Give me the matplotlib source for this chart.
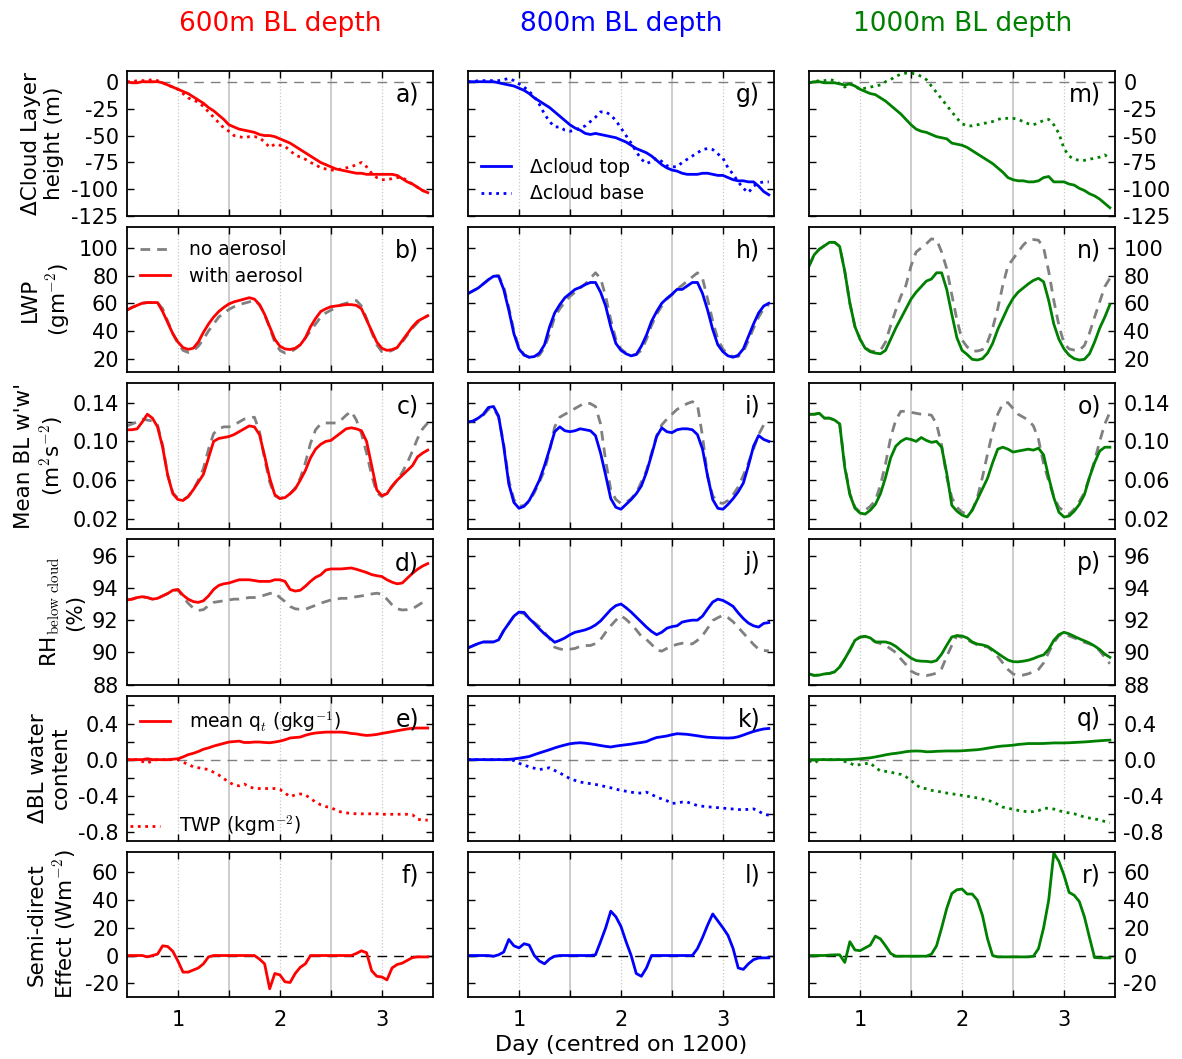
import numpy as np
import matplotlib.pyplot as plt

plt.rcParams['mathtext.fontset'] = 'cm'
plt.rcParams['font.family'] = 'DejaVu Sans'

# time axis, days centred on 1200
day = np.linspace(0.5, 3.45, 60)

# --- change in cloud top / cloud base height (m) ---
top_600 = [0, -1, -1, 0, 0, 0, 0, -1, -3, -5,
           -7, -9, -11, -14, -17, -20, -24, -27, -31, -35,
           -40, -42, -44, -45, -46, -47, -49, -50, -50, -51,
           -53, -55, -57, -60, -63, -66, -69, -72, -75, -77,
           -79, -81, -82, -83, -84, -85, -85, -86, -86, -86,
           -86, -86, -86, -87, -90, -93, -95, -98, -101, -103]
base_600 = [0, 0, 1, 1, 1, 2, 1, -1, -3, -5,
            -7, -11, -15, -17, -19, -23, -28, -33, -38, -43,
            -46, -50, -51, -52, -51, -51, -52, -56, -61, -58,
            -59, -60, -64, -68, -70, -72, -75, -77, -80, -81,
            -82, -82, -81, -80, -79, -77, -75, -79, -85, -89,
            -91, -91, -90, -89, -89, -92, -95, -98, -101, -103]
top_800 = [0, 0, 0, 0, 0, 0, -1, -2, -3, -4,
           -6, -8, -11, -15, -18, -21, -24, -28, -32, -36,
           -40, -43, -45, -48, -49, -48, -49, -50, -51, -52,
           -54, -56, -59, -62, -64, -66, -69, -73, -77, -80,
           -82, -83, -85, -86, -86, -86, -85, -85, -86, -87,
           -87, -89, -91, -92, -92, -93, -93, -97, -102, -105]
base_800 = [0, 0, 1, 1, 1, 1, 1, 2, 3, 1,
            -2, -5, -9, -14, -21, -30, -37, -42, -42, -45,
            -46, -45, -43, -41, -37, -33, -28, -28, -31, -36,
            -43, -50, -57, -65, -72, -76, -74, -71, -74, -78,
            -79, -79, -75, -72, -69, -66, -63, -62, -63, -67,
            -71, -80, -86, -93, -99, -103, -97, -94, -93, -93]
top_1000 = [-1, 0, 0, -1, -1, -1, -2, -3, -2, -4,
            -7, -9, -11, -12, -15, -18, -22, -26, -30, -35,
            -40, -44, -46, -47, -49, -51, -52, -53, -57, -58,
            -59, -61, -64, -67, -70, -73, -76, -80, -84, -89,
            -91, -92, -92, -93, -93, -92, -89, -88, -93, -93,
            -93, -95, -96, -99, -101, -104, -106, -109, -113, -117]
base_1000 = [-1, 0, 1, 1, 2, 1, -2, -5, -2, -4,
             -7, -6, -5, -4, -3, 0, 2, 5, 7, 8,
             8, 7, 5, 2, -4, -10, -16, -22, -28, -34,
             -39, -41, -41, -40, -39, -38, -37, -35, -34, -34,
             -34, -35, -37, -39, -40, -38, -36, -35, -40, -48,
             -62, -69, -72, -73, -73, -72, -71, -70, -68, -71]

# --- LWP (g m-2) ---
lwp_600 = [55, 57, 58.5, 60, 60.5, 60.5, 60.5, 54, 46, 38,
           32, 28, 26.7, 27.5, 32, 39, 45, 50, 54, 57,
           59.5, 61, 62, 63, 64, 63, 59, 52, 43, 34,
           29, 27, 26.6, 27.5, 30, 35, 43, 49, 54, 56,
           57.5, 58, 58.5, 59, 59, 58.5, 56, 48, 40, 32,
           27.5, 26, 26.5, 28, 33, 38, 43, 47, 49, 51]
lwp_600_na = [55, 57, 58.5, 60, 60.5, 60.5, 60.5, 56, 47, 38,
              31, 26, 24.5, 25.5, 29, 34, 40, 45, 50, 53,
              55.5, 57.5, 59, 60, 61, 62, 59, 52, 42, 32,
              26, 24, 24.5, 27, 30, 35, 40, 45, 50, 53,
              55, 57, 59, 60, 61, 62, 58, 49, 39, 30,
              25, 24.5, 26, 28, 32, 37, 42, 46, 49, 51]
lwp_800 = [67, 69, 71, 74, 77, 79.5, 79.5, 70, 55, 38,
           27, 22.5, 21, 21.5, 24, 30, 43, 53, 59, 64,
           67, 70, 71.5, 73.5, 75, 75, 68, 58, 43, 31,
           26, 23.5, 22, 23, 29, 37, 47, 54, 60, 63.5,
           66.5, 70, 70, 72.5, 75, 75, 67, 55, 41, 30,
           25, 22, 21, 22.5, 27, 36, 45, 53, 58, 60]
lwp_800_na = [67, 69, 71, 74, 77, 80, 80, 72, 57, 40,
              28, 23, 21, 21, 22.5, 28, 38, 50, 56, 61,
              65, 68, 71, 74, 78, 82, 78, 65, 48, 34,
              27, 24, 22.5, 23, 26, 34, 44, 52, 58, 63,
              66, 70, 73, 76, 79, 82, 78, 63, 47, 34,
              27, 23, 21.5, 21.5, 25, 33, 42, 50, 56, 59]
lwp_1000 = [87, 95, 99, 101.5, 104, 104, 101, 83, 60, 43,
            34, 27.5, 25, 24, 23.5, 26, 34, 42, 49, 56,
            63, 68, 72, 76, 77.5, 82, 82, 70, 52, 35,
            26, 23, 19.5, 19, 20, 24, 31, 41, 49, 57,
            63.5, 68, 71, 74, 76.5, 78, 75.5, 62, 45, 34,
            27, 22.5, 20, 19, 19.5, 23.5, 32, 42, 50, 59]
lwp_1000_na = [87, 95, 99, 101.5, 104, 104, 101, 83, 60, 43,
               34, 28, 25.5, 25, 26, 32, 44, 55, 65, 73,
               87, 97, 100, 103, 106.5, 106, 97, 85, 66, 48,
               33.5, 28.5, 25.5, 25.5, 26.5, 32, 42, 56, 73, 87,
               92, 97, 102, 105.5, 106, 105.5, 100, 83, 62, 44,
               31, 27, 26.2, 26, 29.5, 38.5, 50, 61, 72, 78]

# --- mean BL w'w' (m2 s-2) ---
ww_600 = [0.112, 0.112, 0.113, 0.120, 0.128, 0.124, 0.115, 0.094, 0.065, 0.046,
          0.040, 0.039, 0.043, 0.050, 0.058, 0.066, 0.083, 0.100, 0.103, 0.104,
          0.105, 0.107, 0.110, 0.113, 0.116, 0.115, 0.107, 0.085, 0.062, 0.045,
          0.041, 0.042, 0.046, 0.051, 0.060, 0.070, 0.083, 0.092, 0.097, 0.100,
          0.101, 0.105, 0.109, 0.113, 0.114, 0.113, 0.111, 0.100, 0.075, 0.050,
          0.044, 0.046, 0.054, 0.060, 0.065, 0.070, 0.075, 0.084, 0.088, 0.091]
ww_600_na = [0.116, 0.118, 0.120, 0.123, 0.122, 0.121, 0.117, 0.096, 0.065, 0.047,
             0.041, 0.040, 0.043, 0.050, 0.060, 0.072, 0.092, 0.108, 0.113, 0.115,
             0.115, 0.117, 0.120, 0.123, 0.124, 0.125, 0.110, 0.082, 0.058, 0.044,
             0.041, 0.043, 0.046, 0.052, 0.062, 0.078, 0.098, 0.112, 0.118, 0.119,
             0.119, 0.119, 0.122, 0.127, 0.131, 0.122, 0.108, 0.088, 0.065, 0.047,
             0.043, 0.047, 0.053, 0.060, 0.068, 0.078, 0.090, 0.103, 0.113, 0.119]
ww_800 = [0.120, 0.121, 0.124, 0.128, 0.135, 0.136, 0.126, 0.095, 0.056, 0.037,
          0.031, 0.033, 0.039, 0.049, 0.060, 0.075, 0.092, 0.110, 0.115, 0.111,
          0.110, 0.111, 0.113, 0.112, 0.111, 0.106, 0.088, 0.065, 0.041, 0.032,
          0.030, 0.035, 0.040, 0.046, 0.054, 0.068, 0.086, 0.105, 0.114, 0.110,
          0.109, 0.112, 0.113, 0.113, 0.112, 0.107, 0.092, 0.064, 0.040, 0.031,
          0.030, 0.035, 0.041, 0.048, 0.057, 0.075, 0.095, 0.106, 0.102, 0.100]
ww_800_na = [0.120, 0.121, 0.124, 0.127, 0.133, 0.134, 0.125, 0.097, 0.060, 0.040,
             0.033, 0.034, 0.038, 0.047, 0.058, 0.070, 0.090, 0.115, 0.125, 0.128,
             0.131, 0.134, 0.137, 0.140, 0.139, 0.136, 0.118, 0.080, 0.050, 0.040,
             0.036, 0.037, 0.041, 0.047, 0.058, 0.070, 0.088, 0.106, 0.117, 0.123,
             0.128, 0.133, 0.136, 0.139, 0.141, 0.138, 0.105, 0.064, 0.044, 0.037,
             0.036, 0.039, 0.045, 0.053, 0.065, 0.078, 0.092, 0.107, 0.117, 0.121]
ww_1000 = [0.128, 0.128, 0.129, 0.124, 0.124, 0.122, 0.118, 0.073, 0.045, 0.031,
           0.026, 0.025, 0.029, 0.035, 0.046, 0.063, 0.083, 0.095, 0.100, 0.103,
           0.102, 0.100, 0.104, 0.101, 0.099, 0.100, 0.094, 0.067, 0.034, 0.028,
           0.024, 0.022, 0.029, 0.040, 0.051, 0.062, 0.078, 0.092, 0.094, 0.092,
           0.089, 0.090, 0.091, 0.092, 0.091, 0.093, 0.086, 0.063, 0.042, 0.027,
           0.022, 0.023, 0.028, 0.035, 0.045, 0.063, 0.078, 0.090, 0.094, 0.094]
ww_1000_na = [0.128, 0.128, 0.129, 0.124, 0.124, 0.122, 0.118, 0.075, 0.046, 0.032,
              0.027, 0.029, 0.033, 0.039, 0.055, 0.077, 0.104, 0.122, 0.131, 0.131,
              0.130, 0.129, 0.128, 0.128, 0.127, 0.118, 0.096, 0.063, 0.042, 0.032,
              0.027, 0.025, 0.029, 0.042, 0.063, 0.087, 0.110, 0.128, 0.139, 0.140,
              0.134, 0.128, 0.125, 0.122, 0.116, 0.102, 0.077, 0.059, 0.043, 0.032,
              0.028, 0.025, 0.030, 0.038, 0.047, 0.063, 0.080, 0.100, 0.118, 0.130]

# --- RH below cloud (%) ---
rh_600 = [93.25, 93.3, 93.4, 93.45, 93.4, 93.3, 93.35, 93.5, 93.65, 93.85,
          93.9, 93.55, 93.3, 93.15, 93.1, 93.2, 93.5, 93.9, 94.15, 94.25,
          94.3, 94.4, 94.5, 94.5, 94.5, 94.45, 94.4, 94.4, 94.4, 94.5,
          94.5, 94.4, 93.9, 93.8, 93.85, 94.1, 94.4, 94.65, 94.8, 95.1,
          95.17, 95.17, 95.17, 95.2, 95.23, 95.15, 95.05, 94.95, 94.82, 94.75,
          94.7, 94.5, 94.35, 94.25, 94.3, 94.6, 94.9, 95.15, 95.35, 95.5]
rh_600_na = [93.25, 93.3, 93.4, 93.45, 93.4, 93.3, 93.35, 93.5, 93.65, 93.85,
             93.85, 93.45, 93.05, 92.75, 92.6, 92.65, 92.9, 93.1, 93.15, 93.2,
             93.25, 93.3, 93.3, 93.35, 93.4, 93.4, 93.45, 93.55, 93.65, 93.7,
             93.4, 93.15, 92.85, 92.7, 92.67, 92.67, 92.8, 92.92, 93.05, 93.15,
             93.25, 93.3, 93.35, 93.35, 93.4, 93.45, 93.5, 93.55, 93.62, 93.67,
             93.6, 93.3, 92.95, 92.7, 92.63, 92.65, 92.7, 92.9, 93.1, 93.15]
rh_800 = [90.28, 90.42, 90.55, 90.65, 90.65, 90.65, 90.78, 91.35, 91.8, 92.25,
          92.5, 92.48, 92.1, 91.8, 91.46, 91.15, 90.9, 90.63, 90.75, 90.9,
          91.1, 91.25, 91.32, 91.4, 91.52, 91.7, 91.95, 92.3, 92.65, 92.9,
          93.0, 92.77, 92.5, 92.19, 91.88, 91.57, 91.3, 91.1, 91.25, 91.5,
          91.6, 91.65, 91.88, 91.95, 92.0, 92.0, 92.25, 92.7, 93.12, 93.3,
          93.22, 93.05, 92.85, 92.45, 92.1, 91.82, 91.65, 91.57, 91.8, 91.85]
rh_800_na = [90.28, 90.42, 90.55, 90.65, 90.65, 90.65, 90.78, 91.35, 91.8, 92.25,
             92.48, 92.4, 92.05, 91.85, 91.6, 91.25, 90.85, 90.32, 90.22, 90.16,
             90.2, 90.25, 90.38, 90.43, 90.43, 90.55, 90.8, 91.25, 91.65, 92.0,
             92.28, 92.05, 91.75, 91.4, 91.0, 90.8, 90.5, 90.15, 90.08, 90.25,
             90.4, 90.5, 90.57, 90.55, 90.53, 90.75, 91.05, 91.5, 91.98, 92.15,
             92.3, 92.15, 91.9, 91.55, 91.2, 90.85, 90.5, 90.2, 90.12, 90.1]
rh_1000 = [88.67, 88.58, 88.6, 88.67, 88.7, 88.8, 89.1, 89.6, 90.15, 90.75,
           90.95, 91.0, 90.9, 90.65, 90.65, 90.65, 90.56, 90.38, 90.12, 89.88,
           89.65, 89.5, 89.46, 89.45, 89.41, 89.5, 89.9, 90.45, 90.96, 91.04,
           91.02, 90.9, 90.65, 90.52, 90.47, 90.38, 90.17, 89.95, 89.73, 89.53,
           89.43, 89.42, 89.46, 89.52, 89.62, 89.75, 89.85, 90.2, 90.75, 91.1,
           91.25, 91.15, 91.0, 90.85, 90.72, 90.58, 90.4, 90.18, 89.9, 89.7]
rh_1000_na = [88.67, 88.58, 88.6, 88.67, 88.7, 88.8, 89.1, 89.6, 90.15, 90.75,
              90.95, 90.98, 90.88, 90.65, 90.55, 90.44, 90.22, 90.0, 89.6, 89.25,
              88.85, 88.68, 88.6, 88.57, 88.63, 88.72, 89.0, 89.75, 90.45, 91.05,
              90.92, 90.78, 90.62, 90.47, 90.38, 90.34, 90.1, 89.75, 89.35, 88.95,
              88.67, 88.58, 88.6, 88.68, 88.8, 88.95, 89.35, 90.0, 90.6, 91.05,
              91.15, 91.02, 90.9, 90.78, 90.63, 90.53, 90.4, 90.1, 89.7, 89.3]

# --- change in BL water: mean qt (g kg-1) and TWP (kg m-2) ---
qt_600 = [0, 0, 0, 0, 0.01, 0, 0, 0, 0, 0.005,
          0.01, 0.03, 0.055, 0.07, 0.09, 0.115, 0.13, 0.15, 0.165, 0.18,
          0.195, 0.2, 0.205, 0.19, 0.19, 0.195, 0.195, 0.19, 0.187, 0.195,
          0.205, 0.22, 0.24, 0.245, 0.25, 0.27, 0.285, 0.295, 0.3, 0.305,
          0.305, 0.305, 0.305, 0.3, 0.29, 0.285, 0.275, 0.268, 0.272, 0.279,
          0.29, 0.3, 0.31, 0.32, 0.33, 0.34, 0.348, 0.35, 0.35, 0.35]
twp_600 = [0, 0, 0, -0.02, -0.04, -0.01, 0, 0, 0, 0,
           0, -0.03, -0.05, -0.08, -0.09, -0.1, -0.11, -0.14, -0.17, -0.21,
           -0.25, -0.28, -0.29, -0.27, -0.3, -0.32, -0.32, -0.32, -0.32, -0.32,
           -0.33, -0.37, -0.41, -0.39, -0.38, -0.39, -0.43, -0.47, -0.5, -0.52,
           -0.53, -0.56, -0.58, -0.59, -0.595, -0.6, -0.6, -0.6, -0.6, -0.6,
           -0.605, -0.605, -0.605, -0.605, -0.605, -0.605, -0.61, -0.66, -0.67, -0.67]
qt_800 = [0, 0, 0, 0, 0, 0, 0, 0, 0.003, 0.008,
          0.016, 0.025, 0.035, 0.055, 0.074, 0.092, 0.11, 0.13, 0.147, 0.162,
          0.176, 0.183, 0.187, 0.182, 0.175, 0.166, 0.156, 0.147, 0.14, 0.15,
          0.158, 0.165, 0.172, 0.182, 0.19, 0.2, 0.225, 0.245, 0.253, 0.262,
          0.276, 0.287, 0.284, 0.28, 0.272, 0.264, 0.255, 0.248, 0.245, 0.242,
          0.24, 0.239, 0.242, 0.253, 0.272, 0.293, 0.312, 0.327, 0.34, 0.345]
twp_800 = [0, 0, 0, 0, 0, 0, 0, 0, 0, -0.01,
           -0.04, -0.06, -0.08, -0.095, -0.11, -0.1, -0.09, -0.12, -0.147, -0.18,
           -0.21, -0.23, -0.248, -0.258, -0.266, -0.275, -0.285, -0.3, -0.312, -0.327,
           -0.34, -0.35, -0.36, -0.37, -0.37, -0.36, -0.385, -0.415, -0.435, -0.455,
           -0.485, -0.48, -0.47, -0.47, -0.49, -0.508, -0.516, -0.522, -0.527, -0.532,
           -0.537, -0.542, -0.547, -0.552, -0.556, -0.55, -0.545, -0.57, -0.605, -0.615]
qt_1000 = [0, 0, 0, 0, 0, 0, 0, 0, 0.002, 0.005,
           0.009, 0.015, 0.02, 0.03, 0.041, 0.053, 0.063, 0.07, 0.078, 0.088,
           0.094, 0.096, 0.094, 0.087, 0.088, 0.092, 0.094, 0.096, 0.096, 0.096,
           0.098, 0.102, 0.106, 0.11, 0.117, 0.127, 0.136, 0.145, 0.151, 0.155,
           0.16, 0.168, 0.173, 0.178, 0.178, 0.178, 0.179, 0.182, 0.185, 0.185,
           0.185, 0.187, 0.19, 0.193, 0.196, 0.2, 0.205, 0.209, 0.213, 0.216]
twp_1000 = [-0.01, -0.04, 0, 0, 0, 0, 0, -0.02, -0.04, -0.063,
            -0.055, -0.045, -0.037, -0.089, -0.124, -0.13, -0.137, -0.155, -0.163, -0.19,
            -0.23, -0.28, -0.315, -0.322, -0.34, -0.348, -0.36, -0.37, -0.378, -0.387,
            -0.396, -0.405, -0.415, -0.424, -0.437, -0.447, -0.47, -0.495, -0.526, -0.538,
            -0.55, -0.562, -0.57, -0.58, -0.575, -0.565, -0.54, -0.537, -0.547, -0.565,
            -0.58, -0.59, -0.6, -0.615, -0.637, -0.647, -0.656, -0.668, -0.685, -0.7]

# --- semi-direct effect (W m-2) ---
sde_600 = [0, 0, 0, 0, -1, 0, 1, 7, 6.5, 3,
           -4, -12, -12, -10.5, -9, -6, -1, 0, 0, 0,
           0, 0, 0, 0, 0, 0, -2.6, -6, -24, -13,
           -14, -19, -19.5, -13, -8.5, -6, 0, 0, 0, 0,
           0, 0, 0, 0, 0, 1.5, 3.4, 2, -11, -15,
           -15.5, -17.6, -9, -6.5, -5.5, -3.5, -1.5, -1, -1, -1]
sde_800 = [0, 0, 0, 0, 0, -0.5, 0.5, 2.5, 11.6, 7,
           5.5, 8.5, 7.5, 0, -4, -6, -2.5, -0.5, 0, 0,
           0, 0, 0, 0, 0, 0.5, 10, 20, 32, 28,
           21, 10, 0, -13, -15, -9, 0, 0, 0, 0,
           0, 0, 0, 0, 0, 5, 13, 22, 30, 25,
           20, 14.5, 5, -9, -10, -6, -3, -1.8, -1.7, -1.7]
sde_1000 = [0, 0, 0, 0, 0.3, 0.5, 0.5, -5, 10, 4,
            3.5, 5.5, 7.5, 14, 12, 7, 1.5, -0.5, -0.5, -0.5,
            -0.5, -0.5, -0.5, -0.5, 1, 7, 20, 34, 44.8, 47.5,
            48, 44.4, 44.4, 40, 29, 12, 0, -1, -1, -1,
            -1, -1, -1, -1, -0.5, 5, 20, 40, 74, 68,
            58, 45.6, 43.5, 39, 28, 13, -1.5, -1.7, -1.7, -1.7]

titles = ['600m BL depth', '800m BL depth', '1000m BL depth']
colours = ['red', 'blue', 'green']
letters = ['abcdef', 'ghijkl', 'mnopqr']

cloud = [(top_600, base_600), (top_800, base_800), (top_1000, base_1000)]
lwp = [(lwp_600, lwp_600_na), (lwp_800, lwp_800_na), (lwp_1000, lwp_1000_na)]
ww = [(ww_600, ww_600_na), (ww_800, ww_800_na), (ww_1000, ww_1000_na)]
rh = [(rh_600, rh_600_na), (rh_800, rh_800_na), (rh_1000, rh_1000_na)]
water = [(qt_600, twp_600), (qt_800, twp_800), (qt_1000, twp_1000)]
sde = [sde_600, sde_800, sde_1000]

ylabels = ['\u0394Cloud Layer\nheight (m)',
           'LWP\n(gm$^{-2}$)',
           "Mean BL w'w'\n(m$^2$s$^{-2}$)",
           'RH$_{\\rm below\\ cloud}$\n(%)',
           '\u0394BL water\ncontent',
           'Semi-direct\nEffect (Wm$^{-2}$)']
ylims = [(-125, 10), (10, 115), (0.01, 0.16), (88, 97), (-0.9, 0.71), (-30, 75)]
yticks = [[-125, -100, -75, -50, -25, 0],
          [20, 40, 60, 80, 100],
          [0.02, 0.04, 0.06, 0.08, 0.10, 0.12, 0.14],
          [88, 90, 92, 94, 96],
          [-0.8, -0.6, -0.4, -0.2, 0.0, 0.2, 0.4, 0.6],
          [-20, 0, 20, 40, 60]]
yticklabels = [['-125', '-100', '-75', '-50', '-25', '0'],
               ['20', '40', '60', '80', '100'],
               ['0.02', '', '0.06', '', '0.10', '', '0.14'],
               ['88', '90', '92', '94', '96'],
               ['-0.8', '', '-0.4', '', '0.0', '', '0.4', ''],
               ['-20', '0', '20', '40', '60']]

fig, axes = plt.subplots(6, 3, figsize=(11.82, 10.59), dpi=100)
fig.subplots_adjust(left=0.1074, right=0.9433, top=0.933, bottom=0.0585,
                    wspace=0.115, hspace=0.074)

gray = '#808080'
dash = (0, (3.5, 2.5))
leg_kw = dict(frameon=False, fontsize=13.5, handlelength=1.6,
              handletextpad=1.0, labelspacing=0.4, borderaxespad=0.3)

for c in range(3):
    col = colours[c]
    ax = axes[0, c]
    ax.axhline(0, color=gray, lw=1, ls=(0, (7, 5)), zorder=1)
    ax.plot(day, cloud[c][0], color=col, lw=2, label='\u0394cloud top')
    ax.plot(day, cloud[c][1], color=col, lw=2, ls=':', label='\u0394cloud base')
    if c == 1:
        ax.legend(loc='lower left', **leg_kw)

    ax = axes[1, c]
    ax.plot(day, lwp[c][1], color=gray, lw=2, ls=dash, label='no aerosol')
    ax.plot(day, lwp[c][0], color=col, lw=2, label='with aerosol')
    if c == 0:
        ax.legend(loc='upper left', **leg_kw)

    ax = axes[2, c]
    ax.plot(day, ww[c][1], color=gray, lw=2, ls=dash)
    ax.plot(day, ww[c][0], color=col, lw=2)

    ax = axes[3, c]
    ax.plot(day, rh[c][1], color=gray, lw=2, ls=dash)
    ax.plot(day, rh[c][0], color=col, lw=2)

    ax = axes[4, c]
    ax.axhline(0, color=gray, lw=1, ls=(0, (7, 5)), zorder=1)
    l1, = ax.plot(day, water[c][0], color=col, lw=2)
    l2, = ax.plot(day, water[c][1], color=col, lw=2, ls=':')
    if c == 0:
        leg1 = ax.legend([l1], ['mean q$_t$ (gkg$^{-1}$)'], loc='upper left', **leg_kw)
        ax.add_artist(leg1)
        ax.legend([l2], ['TWP (kgm$^{-2}$)'], loc='lower left',
                  **dict(leg_kw, borderaxespad=-0.25))

    ax = axes[5, c]
    ax.axhline(0, color='black', lw=1, ls=(0, (7, 5)), zorder=1)
    ax.plot(day, sde[c], color=col, lw=2)

    for r in range(6):
        ax = axes[r, c]
        for d in (1, 2, 3):
            ax.axvline(d, color='#c8c8c8', lw=0.9, ls=':', zorder=0)
        for d in (1.5, 2.5):
            ax.axvline(d, color='#c0c0c0', lw=1.1, zorder=0)
        ax.set_xlim(0.5, 3.5)
        ax.set_ylim(*ylims[r])
        ax.set_xticks([1, 1.5, 2, 2.5, 3])
        ax.set_xticklabels(['1', '', '2', '', '3'])
        ax.set_yticks(yticks[r])
        ax.set_yticklabels(yticklabels[r])
        ax.tick_params(direction='in', top=True, right=True, length=5, width=1,
                       labelsize=15, pad=6)
        ax.tick_params(axis='x', pad=9)
        ax.tick_params(labelbottom=(r == 5))
        if c == 1:
            ax.tick_params(labelleft=False)
        elif c == 2:
            ax.tick_params(labelleft=False, labelright=True)
        else:
            ax.set_ylabel(ylabels[r], fontsize=15.5, labelpad=5)
        for s in ax.spines.values():
            s.set_linewidth(1.3)
        ax.text(0.955, 0.92, letters[c][r] + ')', transform=ax.transAxes,
                ha='right', va='top', fontsize=17)

axes[5, 1].set_xlabel('Day (centred on 1200)', fontsize=16, labelpad=4)

for c, x in enumerate([0.2369, 0.5258, 0.8147]):
    fig.text(x, 0.977, titles[c], color=colours[c], fontsize=19,
             ha='center', va='center')

fig.savefig('out.png', dpi=100)
